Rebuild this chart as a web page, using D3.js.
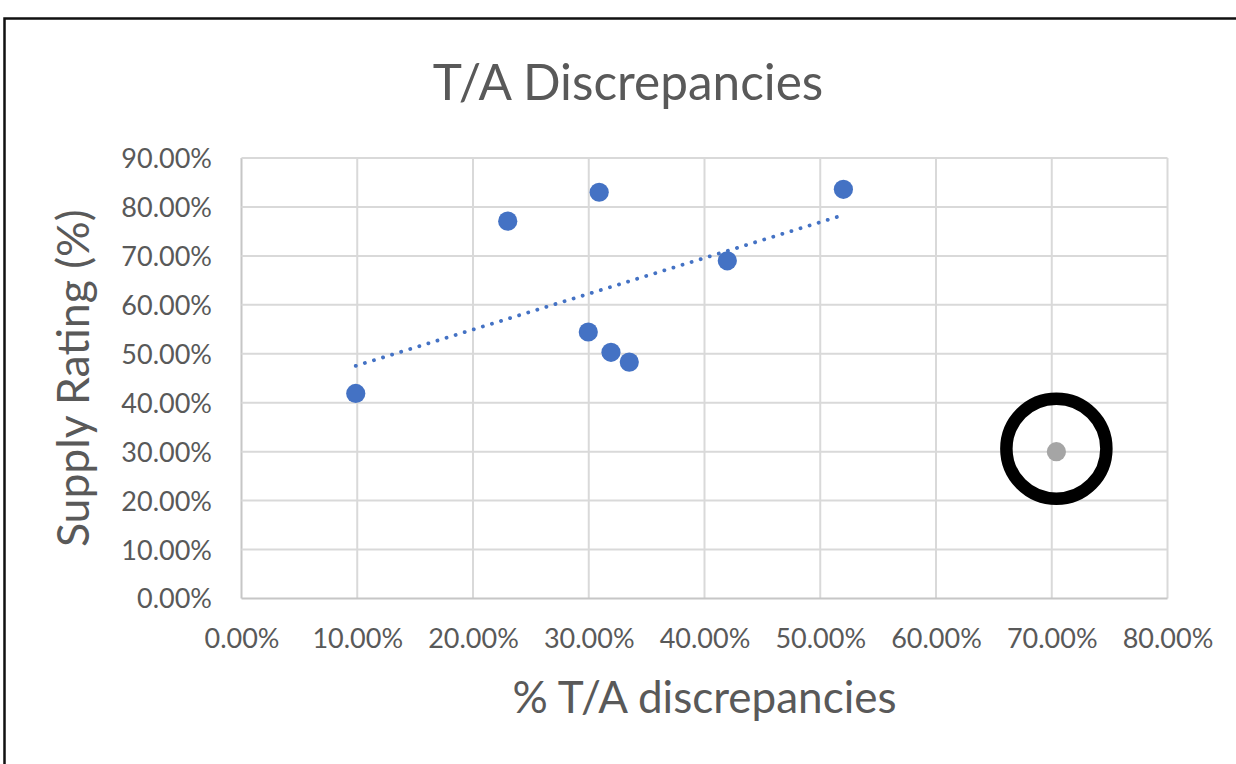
<!DOCTYPE html>
<html>
<head>
<meta charset="utf-8">
<script src="https://cdn.jsdelivr.net/npm/d3@7"></script>
<style>
  html, body { margin: 0; padding: 0; background: #ffffff; }
  svg { display: block; }
  text { font-family: Lato, "Open Sans", sans-serif; fill: #595959; }
</style>
</head>
<body>
<div id="chart"></div>
<script>
// ---- Data (percent values) ----
const blueX = [9.87, 23.0, 30.9, 29.96, 31.92, 33.5, 41.97, 52.0];
const blueY = [41.9, 77.1, 83.0, 54.45, 50.3, 48.3, 69.0, 83.6];
const grayX = [70.4];
const grayY = [30.0];
const xTicks = [0, 10, 20, 30, 40, 50, 60, 70, 80];
const yTicks = [0, 10, 20, 30, 40, 50, 60, 70, 80, 90];
const chartTitle = "T/A Discrepancies";
const xTitle = "% T/A discrepancies";
const yTitle = "Supply Rating (%)";

const W = 1236, H = 764;
const plot = { left: 241.5, right: 1167.5, top: 158, bottom: 598.5 };

const svg = d3.select("#chart").append("svg")
  .attr("width", W).attr("height", H);

// chart frame (extends past the picture on right/bottom)
svg.append("rect")
  .attr("x", 4.5).attr("y", 18.5)
  .attr("width", W + 20).attr("height", H + 20)
  .attr("fill", "#ffffff").attr("stroke", "#111").attr("stroke-width", 2.5);

const x = d3.scaleLinear().domain([0, 80]).range([plot.left, plot.right]);
const y = d3.scaleLinear().domain([0, 90]).range([plot.bottom, plot.top]);
const fmt = d => d.toFixed(2) + "%";

// gridlines
const grid = svg.append("g");
grid.selectAll("line.v").data(xTicks).join("line")
  .attr("x1", d => x(d)).attr("x2", d => x(d))
  .attr("y1", plot.top).attr("y2", plot.bottom)
  .attr("stroke", d => d === 0 ? "#c6c6c6" : "#d9d9d9").attr("stroke-width", 2);
grid.selectAll("line.h").data(yTicks).join("line")
  .attr("x1", plot.left).attr("x2", plot.right)
  .attr("y1", d => y(d)).attr("y2", d => y(d))
  .attr("stroke", d => d === 0 ? "#c6c6c6" : "#d9d9d9").attr("stroke-width", 2);

// axes (labels only, via d3 axis generators)
const xAxis = svg.append("g")
  .attr("transform", `translate(0,${plot.bottom})`)
  .call(d3.axisBottom(x).tickValues(xTicks).tickFormat(fmt).tickSize(0).tickPadding(0));
xAxis.select(".domain").remove();
xAxis.selectAll("text")
  .attr("y", 49.5).attr("dy", null)
  .style("font-family", "Lato, sans-serif").style("font-size", "27px").attr("fill", "#595959");

const yAxis = svg.append("g")
  .attr("transform", `translate(${plot.left},0)`)
  .call(d3.axisLeft(y).tickValues(yTicks).tickFormat(fmt).tickSize(0).tickPadding(0));
yAxis.select(".domain").remove();
yAxis.selectAll("text")
  .attr("x", -29.5).attr("dy", "0.35em")
  .style("font-family", "Lato, sans-serif").style("font-size", "27px").attr("fill", "#595959");

// trendline (least squares on blue series)
const n = blueX.length;
const mx = d3.mean(blueX), my = d3.mean(blueY);
let sxy = 0, sxx = 0;
for (let i = 0; i < n; i++) { sxy += (blueX[i] - mx) * (blueY[i] - my); sxx += (blueX[i] - mx) ** 2; }
const slope = sxy / sxx, icpt = my - slope * mx;
const tx = d3.extent(blueX);
svg.append("line")
  .attr("x1", x(tx[0])).attr("y1", y(icpt + slope * tx[0]))
  .attr("x2", x(tx[1])).attr("y2", y(icpt + slope * tx[1]))
  .attr("stroke", "#4472C4").attr("stroke-width", 3.8)
  .attr("stroke-linecap", "round").attr("stroke-dasharray", "0.1 9.4");

// points
const blue = blueX.map((v, i) => ({ x: v, y: blueY[i] }));
svg.append("g").selectAll("circle").data(blue).join("circle")
  .attr("cx", d => x(d.x)).attr("cy", d => y(d.y)).attr("r", 9.6)
  .attr("fill", "#4472C4");
const gray = grayX.map((v, i) => ({ x: v, y: grayY[i] }));
svg.append("g").selectAll("circle").data(gray).join("circle")
  .attr("cx", d => x(d.x)).attr("cy", d => y(d.y)).attr("r", 9.6)
  .attr("fill", "#A5A5A5");

// highlight ring around the gray point
svg.append("g").selectAll("circle").data(gray).join("circle")
  .attr("cx", d => x(d.x)).attr("cy", d => y(d.y) - 3).attr("r", 50)
  .attr("fill", "none").attr("stroke", "#000").attr("stroke-width", 12.5);

// titles
svg.append("text").attr("x", 628).attr("y", 100).attr("text-anchor", "middle")
  .style("font-size", "49.5px").text(chartTitle);
svg.append("text").attr("x", (plot.left + plot.right) / 2).attr("y", 713).attr("text-anchor", "middle")
  .style("font-size", "44px").text(xTitle);
svg.append("text").attr("transform", `translate(89,${(plot.top + plot.bottom) / 2}) rotate(-90)`)
  .attr("text-anchor", "middle").style("font-size", "44.5px").text(yTitle);
</script>
</body>
</html>
